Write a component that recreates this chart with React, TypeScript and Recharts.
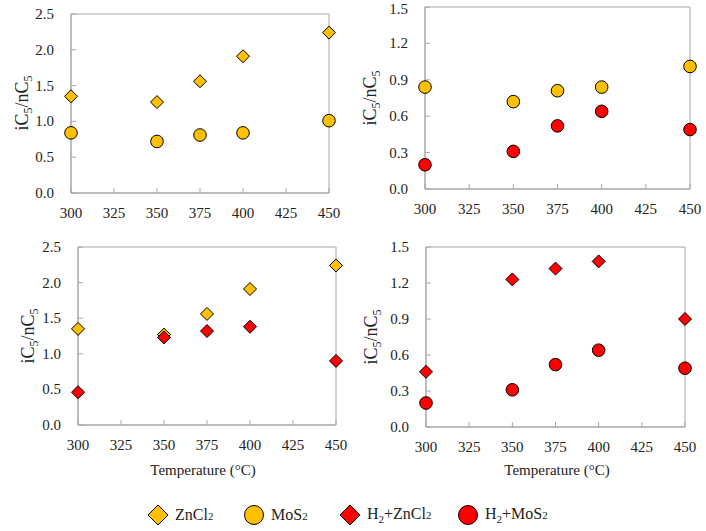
import React from 'react';
import {
  ScatterChart,
  Scatter,
  XAxis,
  YAxis,
  ReferenceArea
} from 'recharts';

const temperatures = [300, 350, 375, 400, 450];
const zncl2 = [1.35, 1.27, 1.56, 1.91, 2.24];
const mos2 = [0.84, 0.72, 0.81, 0.84, 1.01];
const h2Zncl2 = [0.46, 1.23, 1.32, 1.38, 0.9];
const h2Mos2 = [0.2, 0.31, 0.52, 0.64, 0.49];

const xTicks = [300, 325, 350, 375, 400, 425, 450];
const yTicksWide = [0, 0.5, 1.0, 1.5, 2.0, 2.5];
const yTicksNarrow = [0, 0.3, 0.6, 0.9, 1.2, 1.5];

const GOLD = '#FFC000';
const RED = '#FF0000';
const FRAME = '#a6a6a6';
const FONT = "'Liberation Serif', serif";

const toPoints = (values: number[]) =>
  temperatures.map((t, i) => ({ x: t, y: values[i] }));

const diamond = (fill: string) => (props: any) => {
  const { cx, cy } = props;
  const r = 6.5;
  return (
    <polygon
      points={`${cx},${cy - r} ${cx + r},${cy} ${cx},${cy + r} ${cx - r},${cy}`}
      fill={fill}
      stroke="#000"
      strokeWidth={1}
    />
  );
};

const circle = (fill: string) => (props: any) => {
  const { cx, cy } = props;
  return <circle cx={cx} cy={cy} r={6.3} fill={fill} stroke="#000" strokeWidth={1} />;
};

interface SeriesDef {
  name: string;
  values: number[];
  kind: 'diamond' | 'circle';
  color: string;
}

interface PanelProps {
  left: number;
  top: number;
  margin: { top: number; right: number; bottom: number; left: number };
  yMax: number;
  yTicks: number[];
  series: SeriesDef[];
}

const tickText = { fontFamily: FONT, fontSize: 15, fill: '#222' };

// serif tick text, drawn by hand so the font sticks
const XTick = (props: any) => {
  const { x, y, payload } = props;
  return (
    <text x={x} y={y + 12} textAnchor="middle" style={tickText}>
      {payload.value}
    </text>
  );
};

const YTick = (props: any) => {
  const { x, y, payload } = props;
  return (
    <text x={x} y={y + 5} textAnchor="end" style={tickText}>
      {Number(payload.value).toFixed(1)}
    </text>
  );
};

const Panel: React.FC<PanelProps> = ({ left, top, margin, yMax, yTicks, series }) => (
  <div style={{ position: 'absolute', left, top, fontFamily: FONT }}>
    <ScatterChart width={353} height={230} margin={margin}>
      <XAxis
        type="number"
        dataKey="x"
        domain={[300, 450]}
        ticks={xTicks}
        height={30}
        stroke={FRAME}
        tickSize={-5}
        tickMargin={18}
        tick={<XTick />}
      />
      <YAxis
        type="number"
        dataKey="y"
        domain={[0, yMax]}
        ticks={yTicks}
        width={50}
        stroke={FRAME}
        tickSize={-5}
        tickMargin={22}
        tick={<YTick />}
      />
      <ReferenceArea
        x1={300}
        x2={450}
        y1={0}
        y2={yMax}
        fill="none"
        stroke={FRAME}
        strokeWidth={1}
        ifOverflow="visible"
      />
      {series.map((s) => (
        <Scatter
          key={s.name}
          name={s.name}
          data={toPoints(s.values)}
          shape={s.kind === 'diamond' ? diamond(s.color) : circle(s.color)}
          isAnimationActive={false}
        />
      ))}
    </ScatterChart>
  </div>
);

const YTitle: React.FC<{ x: number; y: number }> = ({ x, y }) => (
  <div
    style={{
      position: 'absolute',
      left: x,
      top: y,
      transform: 'translate(-50%, -50%) rotate(-90deg)',
      fontFamily: FONT,
      fontSize: 18,
      color: '#222',
      whiteSpace: 'nowrap'
    }}
  >
    iC<sub style={{ fontSize: 12 }}>5</sub>/nC<sub style={{ fontSize: 12 }}>5</sub>
  </div>
);

const XTitle: React.FC<{ x: number; y: number }> = ({ x, y }) => (
  <div
    style={{
      position: 'absolute',
      left: x,
      top: y,
      transform: 'translate(-50%, -50%)',
      fontFamily: FONT,
      fontSize: 15,
      color: '#222',
      whiteSpace: 'nowrap'
    }}
  >
    Temperature (°C)
  </div>
);

const LegendMarker: React.FC<{ kind: 'diamond' | 'circle'; color: string }> = ({ kind, color }) => (
  <svg width={22} height={22} style={{ marginRight: 6 }}>
    {kind === 'diamond' ? (
      <polygon points="11,1 21,11 11,21 1,11" fill={color} stroke="#000" strokeWidth={1} />
    ) : (
      <circle cx={11} cy={11} r={9.5} fill={color} stroke="#000" strokeWidth={1} />
    )}
  </svg>
);

const small = { fontSize: 11 };

const legendItems: { kind: 'diamond' | 'circle'; color: string; label: React.ReactNode; x: number }[] = [
  { kind: 'diamond', color: GOLD, x: 147, label: <>ZnCl<span style={small}>2</span></> },
  { kind: 'circle', color: GOLD, x: 243, label: <>MoS<span style={small}>2</span></> },
  {
    kind: 'diamond',
    color: RED,
    x: 339,
    label: <>H<sub style={small}>2</sub>+ZnCl<span style={small}>2</span></>
  },
  {
    kind: 'circle',
    color: RED,
    x: 457,
    label: <>H<sub style={small}>2</sub>+MoS<span style={small}>2</span></>
  }
];

export default function App() {
  const zn: SeriesDef = { name: 'ZnCl2', values: zncl2, kind: 'diamond', color: GOLD };
  const mo: SeriesDef = { name: 'MoS2', values: mos2, kind: 'circle', color: GOLD };
  const hzn: SeriesDef = { name: 'H2+ZnCl2', values: h2Zncl2, kind: 'diamond', color: RED };
  const hmo: SeriesDef = { name: 'H2+MoS2', values: h2Mos2, kind: 'circle', color: RED };

  return (
    <div
      style={{
        position: 'absolute',
        left: 0,
        top: 0,
        width: 706,
        height: 531,
        background: '#fff',
        overflow: 'hidden',
        fontFamily: FONT
      }}
    >
      <Panel
        left={0}
        top={0}
        margin={{ top: 14, right: 24, bottom: 7, left: 21 }}
        yMax={2.5}
        yTicks={yTicksWide}
        series={[zn, mo]}
      />
      <Panel
        left={353}
        top={0}
        margin={{ top: 7, right: 16, bottom: 11, left: 22 }}
        yMax={1.5}
        yTicks={yTicksNarrow}
        series={[mo, hmo]}
      />
      <Panel
        left={0}
        top={230}
        margin={{ top: 17, right: 17, bottom: 5, left: 28 }}
        yMax={2.5}
        yTicks={yTicksWide}
        series={[zn, hzn]}
      />
      <Panel
        left={353}
        top={230}
        margin={{ top: 17, right: 21, bottom: 3, left: 23 }}
        yMax={1.5}
        yTicks={yTicksNarrow}
        series={[hzn, hmo]}
      />

      <YTitle x={24} y={103} />
      <YTitle x={372} y={98} />
      <YTitle x={30} y={336} />
      <YTitle x={373} y={337} />

      <XTitle x={203} y={470} />
      <XTitle x={557} y={470} />

      {legendItems.map((item, i) => (
        <div
          key={i}
          style={{
            position: 'absolute',
            left: item.x,
            top: 504,
            display: 'flex',
            alignItems: 'center',
            fontFamily: FONT,
            fontSize: 16,
            color: '#222',
            whiteSpace: 'nowrap'
          }}
        >
          <LegendMarker kind={item.kind} color={item.color} />
          <span>{item.label}</span>
        </div>
      ))}
    </div>
  );
}
